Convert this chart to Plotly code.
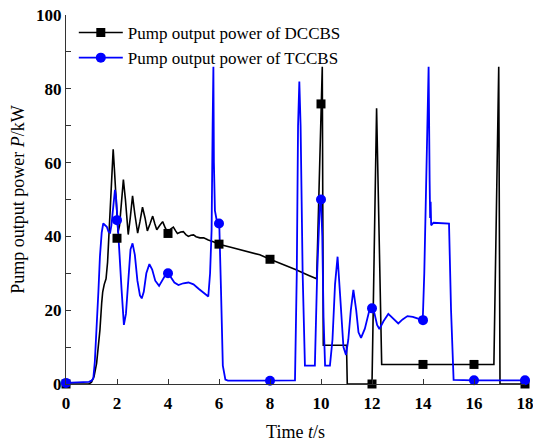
import plotly.graph_objects as go

# ---- data ----
dccbs_t = [0, 0.9, 1.0, 1.1, 1.2, 1.33, 1.4, 1.44, 1.5, 1.57, 1.63, 1.7, 1.78, 1.85, 1.9, 1.96,
           2.04, 2.1, 2.17, 2.25, 2.33, 2.44, 2.52, 2.61, 2.7, 2.81, 2.9, 3.0, 3.1, 3.19, 3.3,
           3.4, 3.48, 3.56, 3.68, 3.79, 3.88, 3.97, 4.1, 4.21, 4.3, 4.37, 4.5, 4.6, 4.7, 4.8,
           4.9, 5.0, 5.1, 5.25, 5.4, 5.58, 5.8, 6.0, 6.5, 7.0, 7.6, 8.0, 8.5, 9.0, 9.5, 9.83,
           10.05, 10.09, 11.0, 11.03, 12.0, 12.18, 12.38, 16.78, 16.97, 17.02, 18]
dccbs_p = [0, 0, 0.5, 2, 5.6, 14.6, 22, 25, 27, 28.5, 33, 41.7, 55, 63.6, 58, 50.8,
           41, 43, 50, 55.4, 50, 40.5, 45, 51, 46, 40.9, 44, 47.9, 45, 41.5, 43.5,
           45.5, 43.5, 41.8, 43, 44, 42.5, 41.2, 42, 42.5, 41.5, 40.8, 41.2, 41.3, 40.5, 40,
           40.3, 40.4, 39.9, 39.6, 39.6, 39.0, 38.5, 37.9, 37, 36, 35, 33.8, 32.5, 31, 29.5, 28.5,
           86, 10.5, 10.5, 0, 0, 74.7, 5.3, 5.3, 86, 0, 0]

tccbs_t = [0, 0.5, 0.9, 1.0, 1.07, 1.13, 1.2, 1.27, 1.33, 1.4, 1.46, 1.53, 1.6, 1.67, 1.73,
           1.78, 1.83, 1.88, 1.92, 1.97, 2.02, 2.1, 2.18, 2.27, 2.35, 2.45, 2.53, 2.61, 2.7,
           2.8, 2.9, 2.97, 3.05, 3.15, 3.27, 3.38, 3.5, 3.65, 3.8, 3.92, 4.01, 4.1, 4.25, 4.41,
           4.6, 4.8, 5.0, 5.2, 5.4, 5.58, 5.65, 5.71, 5.75, 5.78, 5.8, 5.84, 5.92, 6.01, 6.08,
           6.15, 6.25, 6.35, 8.98, 9.05, 9.1, 9.15, 9.2, 9.28, 9.37, 9.76, 9.85, 9.95, 10.0,
           10.05, 10.1, 10.16, 10.35, 10.45, 10.55, 10.65, 10.75, 10.88, 10.98, 11.07, 11.17,
           11.27, 11.38, 11.47, 11.57, 11.72, 11.88, 11.99, 12.1, 12.2, 12.29, 12.45, 12.64, 12.8,
           13.03, 13.2, 13.39, 13.6, 13.8, 13.99, 14.05, 14.15, 14.22, 14.26, 14.28, 14.3,
           14.32, 14.41, 15.02, 15.1, 15.2, 16.0, 18]
tccbs_p = [0.3, 0.5, 0.6, 0.9, 1.5, 6, 14.6, 25, 34.5, 41, 43.5, 43, 42.6, 41.2, 41,
           43, 46.2, 51, 52.6, 50, 45, 35, 25.5, 16, 19, 30, 36.5, 38.1, 35,
           28, 24, 23.2, 25, 30, 32.5, 31, 28, 26.6, 28.5, 29.8, 30, 29, 27.5, 26.8,
           27.3, 27.5, 27, 25.8, 24.7, 23.7, 30, 41.7, 70, 86, 60, 47, 44, 43.5, 25,
           5, 1.2, 0.9, 1, 30, 70, 82, 70, 30, 5, 5, 30, 48, 50,
           40, 18, 5, 5, 12, 27, 34.5, 24, 10, 7.9, 12, 20,
           25.5, 20, 14, 12.5, 15, 19.5, 20.8, 19, 16, 14.9, 17, 19.0, 18,
           16.4, 17.5, 18.4, 18.2, 17.8, 17.3, 30, 65, 86, 55, 45, 49.4,
           43, 43.7, 43.5, 20, 1.1, 1, 1]

marker_t = [0, 2, 4, 6, 8, 10, 12, 14, 16, 18]
dccbs_marker_p = [0, 39.5, 40.8, 37.9, 33.8, 75.9, 0, 5.3, 5.3, 0]
tccbs_marker_p = [0.3, 44.4, 30, 43.5, 0.9, 50, 20.5, 17.3, 1, 1]

x_ticks = [0, 2, 4, 6, 8, 10, 12, 14, 16, 18]
y_ticks = [0, 20, 40, 60, 80, 100]

BLACK = "#000000"
BLUE = "#0000ff"
SERIF = "Liberation Serif, Times New Roman, serif"

fig = go.Figure()
fig.add_trace(go.Scatter(x=dccbs_t, y=dccbs_p, mode="lines",
                         line=dict(color=BLACK, width=1.6), showlegend=False, hoverinfo="skip"))
fig.add_trace(go.Scatter(x=tccbs_t, y=tccbs_p, mode="lines",
                         line=dict(color=BLUE, width=1.8), showlegend=False, hoverinfo="skip"))
fig.add_trace(go.Scatter(x=marker_t, y=dccbs_marker_p, mode="markers", cliponaxis=False,
                         marker=dict(symbol="square", size=9, color=BLACK), showlegend=False))
fig.add_trace(go.Scatter(x=marker_t, y=tccbs_marker_p, mode="markers", cliponaxis=False,
                         marker=dict(symbol="circle", size=10, color=BLUE), showlegend=False))
# legend entries
fig.add_trace(go.Scatter(x=[None], y=[None], mode="lines+markers", name="Pump output power of DCCBS",
                         line=dict(color=BLACK, width=1.6),
                         marker=dict(symbol="square", size=9, color=BLACK)))
fig.add_trace(go.Scatter(x=[None], y=[None], mode="lines+markers", name="Pump output power of TCCBS",
                         line=dict(color=BLUE, width=1.8),
                         marker=dict(symbol="circle", size=10, color=BLUE)))

fig.update_layout(
    width=533, height=442,
    margin=dict(l=66, r=8, t=15, b=58),
    paper_bgcolor="white", plot_bgcolor="white",
    font=dict(family=SERIF, color="black"),
    legend=dict(x=0.017, y=1.0, xanchor="left", yanchor="top",
                font=dict(family=SERIF, size=17, color="black"),
                bgcolor="rgba(0,0,0,0)", tracegroupgap=0, itemwidth=44),
    xaxis=dict(range=[0, 18], tickvals=x_ticks, ticktext=[str(v) for v in x_ticks],
               automargin=False, ticklabeloverflow="allow", ticklabelstandoff=4,
               showgrid=False, zeroline=False, showline=True, linecolor="#333", linewidth=1,
               ticks="inside", ticklen=5, tickcolor="#333",
               tickfont=dict(family=SERIF, size=17, color="black", weight="bold"),
               title=dict(text="Time <i>t</i>/s", font=dict(family=SERIF, size=18), standoff=12)),
    yaxis=dict(range=[0, 100], tickvals=y_ticks, ticktext=[str(v) for v in y_ticks],
               automargin=False, ticklabeloverflow="allow",
               showgrid=False, zeroline=False, showline=True, linecolor="#333", linewidth=1,
               ticks="inside", ticklen=5, tickcolor="#333",
               minor=dict(dtick=10, ticks="inside", ticklen=5, tickcolor="#333", showgrid=False),
               tickfont=dict(family=SERIF, size=17, color="black", weight="bold"),
               title=dict(text="Pump output power <i>P</i>/kW", font=dict(family=SERIF, size=18), standoff=6)),
)

# remove the default 8px page margin so the figure fills the window exactly
fig.write_html("out.html", config={"displayModeBar": False},
               post_script="document.body.style.margin='0px';")
